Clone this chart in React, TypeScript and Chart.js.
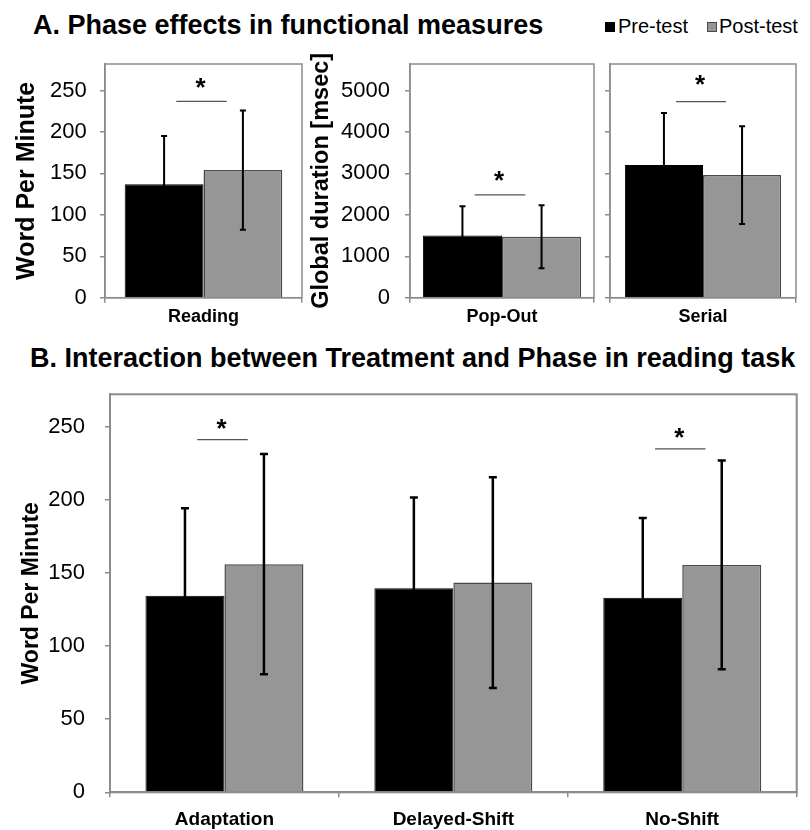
import React, { useEffect, useRef } from 'react';
import { Chart, registerables } from 'chart.js';

Chart.register(...registerables);

const FONT = "'Liberation Sans', Arial, Helvetica, sans-serif";
const GRAY = '#8c8c8c';
const PRE_COLOR = '#000000';
const POST_COLOR = '#969696';
const POST_BORDER = '#4a4a4a';

const seriesLabels = ['Pre-test', 'Post-test'];

// Panel A — Reading (words per minute)
const readingCategories = ['Reading'];
const readingPre = [137];
const readingPost = [154];
const readingPreSD = [58];
const readingPostSD = [72];
const readingSigLine = [237];
const readingSigStar = [261];

// Panel A — Pop-Out (msec)
const popOutCategories = ['Pop-Out'];
const popOutPre = [1500];
const popOutPost = [1470];
const popOutPreSD = [710];
const popOutPostSD = [760];
const popOutSigLine = [2480];
const popOutSigStar = [2990];

// Panel A — Serial (msec)
const serialCategories = ['Serial'];
const serialPre = [3200];
const serialPost = [2960];
const serialPreSD = [1260];
const serialPostSD = [1180];
const serialSigLine = [4730];
const serialSigStar = [5300];

// Panel B — Treatment x Phase (words per minute)
const treatmentCategories = ['Adaptation', 'Delayed-Shift', 'No-Shift'];
const treatmentPre = [134.4, 139.5, 133];
const treatmentPost = [155.9, 143.3, 155.4];
const treatmentPreSD = [59.8, 62, 54.4];
const treatmentPostSD = [75.3, 72, 71.3];
const treatmentSigLine: (number | null)[] = [241, null, 234.7];
const treatmentSigStar: (number | null)[] = [253, null, 247];

// axis ranges and tick labels
const wpmMaxA = 282;
const msecMaxA = 5640;
const wpmMaxB = 272;
const wpmTicksA = [0, 50, 100, 150, 200, 250];
const msecTicksA = [0, 1000, 2000, 3000, 4000, 5000];
const wpmTicksB = [0, 50, 100, 150, 200, 250];

type Box = { left: number; top: number; width: number; height: number };
type Area = { left: number; right: number; top: number; bottom: number };

type PanelProps = {
  labels: string[];
  pre: number[];
  post: number[];
  preSD: number[];
  postSD: number[];
  sigLine: (number | null)[];
  sigStar: (number | null)[];
  yMax: number;
  yTicks: number[];
  showYLabels: boolean;
  yTitle?: string;
  yTitleSize?: number;
  yTitlePad?: number;
  canvas: Box;
  area: Area;
  tickPad: number;
  tickSize: number;
  xSize: number;
  xPad: number;
  catPct: number;
  capHalf: number;
  errWidth: number;
  boxWidth: number;
  starSize: number;
};

function Panel(p: PanelProps) {
  const ref = useRef<HTMLCanvasElement | null>(null);
  useEffect(() => {
    if (!ref.current) return;
    const padR = p.canvas.left + p.canvas.width - p.area.right;
    const padT = p.area.top - p.canvas.top;
    const yW = p.area.left - p.canvas.left;
    const xH = p.canvas.top + p.canvas.height - p.area.bottom;

    const overlay = {
      id: 'overlay',
      afterDatasetsDraw(chart: any) {
        const ctx = chart.ctx as CanvasRenderingContext2D;
        const y = chart.scales.y;
        const metas = [chart.getDatasetMeta(0), chart.getDatasetMeta(1)];
        const sds = [p.preSD, p.postSD];
        const vals = [p.pre, p.post];
        ctx.save();
        // error bars
        metas.forEach((meta: any, d: number) => {
          meta.data.forEach((el: any, i: number) => {
            const v = vals[d][i];
            const sd = sds[d][i];
            const top = y.getPixelForValue(v + sd);
            const bot = y.getPixelForValue(v - sd);
            ctx.strokeStyle = '#000';
            ctx.lineWidth = p.errWidth;
            ctx.beginPath();
            ctx.moveTo(el.x, top);
            ctx.lineTo(el.x, bot);
            ctx.moveTo(el.x - p.capHalf, top);
            ctx.lineTo(el.x + p.capHalf, top);
            ctx.moveTo(el.x - p.capHalf, bot);
            ctx.lineTo(el.x + p.capHalf, bot);
            ctx.stroke();
          });
        });
        // significance markers
        metas[0].data.forEach((el: any, i: number) => {
          const lv = p.sigLine[i];
          const sv = p.sigStar[i];
          if (lv == null || sv == null) return;
          const w = el.width;
          const cx = el.x + w / 2 - 2;
          const half = 0.32 * w;
          const ly = y.getPixelForValue(lv);
          ctx.strokeStyle = '#555';
          ctx.lineWidth = 1.3;
          ctx.beginPath();
          ctx.moveTo(cx - half, ly);
          ctx.lineTo(cx + half, ly);
          ctx.stroke();
          const sy = y.getPixelForValue(sv);
          ctx.fillStyle = '#000';
          ctx.font = `bold ${p.starSize}px ${FONT}`;
          ctx.textAlign = 'center';
          ctx.textBaseline = 'alphabetic';
          ctx.fillText('*', cx - 1, sy + 0.57 * p.starSize);
        });
        // plot box
        const a = chart.chartArea;
        ctx.strokeStyle = GRAY;
        ctx.lineWidth = p.boxWidth;
        ctx.strokeRect(a.left, a.top, a.right - a.left, a.bottom - a.top);
        ctx.restore();
      },
    };

    const chart = new Chart(ref.current, {
      type: 'bar',
      data: {
        labels: p.labels,
        datasets: [
          {
            label: seriesLabels[0],
            data: p.pre,
            backgroundColor: PRE_COLOR,
            borderColor: PRE_COLOR,
            borderWidth: 1,
          },
          {
            label: seriesLabels[1],
            data: p.post,
            backgroundColor: POST_COLOR,
            borderColor: POST_BORDER,
            borderWidth: 1.5,
          },
        ],
      },
      options: {
        responsive: false,
        animation: false,
        devicePixelRatio: 1,
        layout: { padding: { left: 0, right: padR, top: padT, bottom: 0 } },
        datasets: { bar: { categoryPercentage: p.catPct, barPercentage: 1 } },
        plugins: { legend: { display: false }, tooltip: { enabled: false } },
        scales: {
          x: {
            grid: {
              offset: true,
              drawOnChartArea: false,
              drawTicks: true,
              tickLength: 5,
              color: GRAY,
              lineWidth: 1.5,
            },
            border: { display: true, color: GRAY, width: p.boxWidth },
            ticks: {
              font: { family: FONT, size: p.xSize, weight: 'bold' },
              color: '#000',
              padding: p.xPad,
              maxRotation: 0,
              autoSkip: false,
            },
            afterFit: (s: any) => {
              s.height = xH;
              s.paddingLeft = 0;
              s.paddingRight = 0;
            },
          },
          y: {
            min: 0,
            max: p.yMax,
            grid: {
              drawOnChartArea: false,
              drawTicks: true,
              tickLength: 5,
              color: GRAY,
              lineWidth: 1.5,
            },
            border: { display: true, color: GRAY, width: p.boxWidth },
            ticks: {
              display: p.showYLabels,
              font: { family: FONT, size: p.tickSize },
              color: '#000',
              padding: p.tickPad,
              callback: (v: any) => String(v),
            },
            afterBuildTicks: (s: any) => {
              s.ticks = p.yTicks.map((v) => ({ value: v }));
            },
            title: {
              display: !!p.yTitle,
              text: p.yTitle || '',
              color: '#000',
              font: { family: FONT, size: p.yTitleSize || 20, weight: 'bold' },
              padding: { top: p.yTitlePad || 0, bottom: 0 },
            },
            afterFit: (s: any) => {
              s.width = yW;
              s.paddingTop = 0;
              s.paddingBottom = 0;
            },
          },
        },
      } as any,
      plugins: [overlay as any],
    });
    return () => chart.destroy();
  }, []);
  return (
    <canvas
      ref={ref}
      width={p.canvas.width}
      height={p.canvas.height}
      style={{
        position: 'absolute',
        left: p.canvas.left,
        top: p.canvas.top,
        width: p.canvas.width,
        height: p.canvas.height,
      }}
    />
  );
}

export default function App() {
  const titleStyle: React.CSSProperties = {
    position: 'absolute',
    fontFamily: FONT,
    fontWeight: 'bold',
    fontSize: 27,
    lineHeight: 1,
    whiteSpace: 'nowrap',
    color: '#000',
  };
  const legendText: React.CSSProperties = {
    position: 'absolute',
    top: 15.7,
    fontFamily: FONT,
    fontSize: 20,
    lineHeight: 1,
    whiteSpace: 'nowrap',
    color: '#000',
  };
  return (
    <div
      style={{
        position: 'absolute',
        left: 0,
        top: 0,
        width: 810,
        height: 830,
        background: '#fff',
        overflow: 'hidden',
      }}
    >
      <div style={{ ...titleStyle, left: 33, top: 11.5 }}>A. Phase effects in functional measures</div>

      <div style={{ position: 'absolute', left: 605, top: 22, width: 10, height: 10, background: PRE_COLOR }} />
      <div style={{ ...legendText, left: 618 }}>{seriesLabels[0]}</div>
      <div
        style={{
          position: 'absolute',
          left: 707,
          top: 22,
          width: 8,
          height: 8,
          background: POST_COLOR,
          border: `1px solid ${POST_BORDER}`,
        }}
      />
      <div style={{ ...legendText, left: 719 }}>{seriesLabels[1]}</div>

      <Panel
        labels={readingCategories}
        pre={readingPre}
        post={readingPost}
        preSD={readingPreSD}
        postSD={readingPostSD}
        sigLine={readingSigLine}
        sigStar={readingSigStar}
        yMax={wpmMaxA}
        yTicks={wpmTicksA}
        showYLabels={true}
        yTitle="Word Per Minute"
        yTitleSize={25}
        yTitlePad={11.7}
        canvas={{ left: 0, top: 50, width: 305, height: 285 }}
        area={{ left: 105, right: 302, top: 64, bottom: 297.7 }}
        tickPad={13.3}
        tickSize={22}
        xSize={18}
        xPad={3.5}
        catPct={0.8}
        capHalf={3}
        errWidth={2}
        boxWidth={1.5}
        starSize={26}
      />
      <Panel
        labels={popOutCategories}
        pre={popOutPre}
        post={popOutPost}
        preSD={popOutPreSD}
        postSD={popOutPostSD}
        sigLine={popOutSigLine}
        sigStar={popOutSigStar}
        yMax={msecMaxA}
        yTicks={msecTicksA}
        showYLabels={true}
        yTitle="Global duration [msec]"
        yTitleSize={23.5}
        yTitlePad={2.6}
        canvas={{ left: 305, top: 40, width: 295, height: 295 }}
        area={{ left: 410, right: 594, top: 64, bottom: 297.7 }}
        tickPad={15}
        tickSize={22}
        xSize={18}
        xPad={3.5}
        catPct={0.86}
        capHalf={3}
        errWidth={2}
        boxWidth={1.5}
        starSize={26}
      />
      <Panel
        labels={serialCategories}
        pre={serialPre}
        post={serialPost}
        preSD={serialPreSD}
        postSD={serialPostSD}
        sigLine={serialSigLine}
        sigStar={serialSigStar}
        yMax={msecMaxA}
        yTicks={msecTicksA}
        showYLabels={false}
        canvas={{ left: 600, top: 50, width: 210, height: 285 }}
        area={{ left: 610, right: 796, top: 64, bottom: 297.7 }}
        tickPad={15}
        tickSize={22}
        xSize={18}
        xPad={3.5}
        catPct={0.84}
        capHalf={3}
        errWidth={2}
        boxWidth={1.5}
        starSize={26}
      />

      <div style={{ ...titleStyle, left: 30, top: 344.8 }}>
        B. Interaction between Treatment and Phase in reading task
      </div>

      <Panel
        labels={treatmentCategories}
        pre={treatmentPre}
        post={treatmentPost}
        preSD={treatmentPreSD}
        postSD={treatmentPostSD}
        sigLine={treatmentSigLine}
        sigStar={treatmentSigStar}
        yMax={wpmMaxB}
        yTicks={wpmTicksB}
        showYLabels={true}
        yTitle="Word Per Minute"
        yTitleSize={23}
        yTitlePad={18.2}
        canvas={{ left: 0, top: 375, width: 810, height: 455 }}
        area={{ left: 110, right: 796.7, top: 394.3, bottom: 792.3 }}
        tickPad={20}
        tickSize={22}
        xSize={19}
        xPad={11.3}
        catPct={0.69}
        capHalf={4}
        errWidth={2.5}
        boxWidth={2}
        starSize={26}
      />
    </div>
  );
}
